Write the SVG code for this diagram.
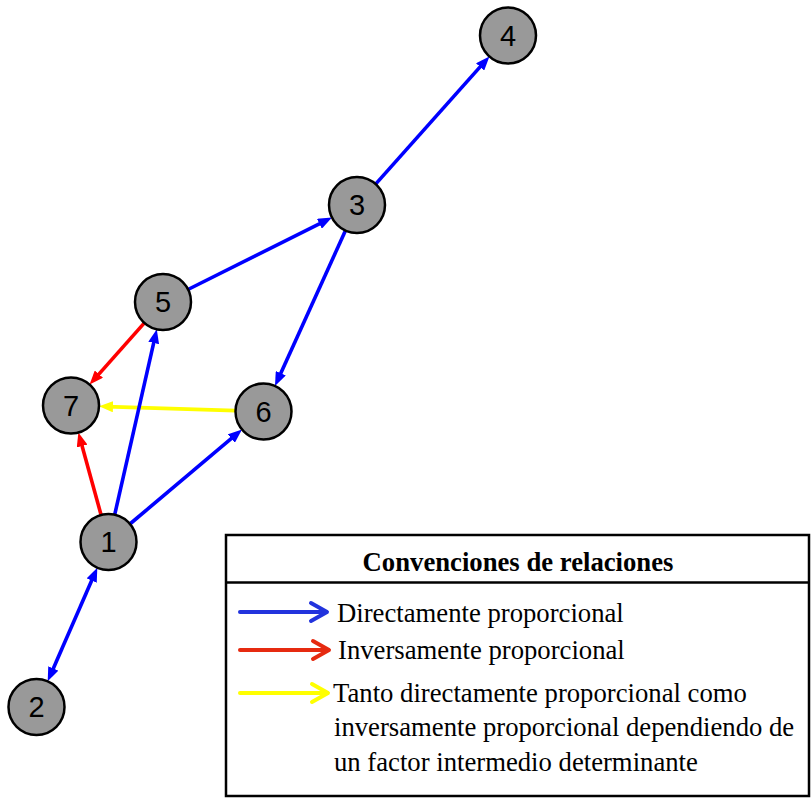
<svg xmlns="http://www.w3.org/2000/svg" width="812" height="798" viewBox="0 0 812 798">
<style>
.node circle{fill:#999999;stroke:#000;stroke-width:2.5}
.node text{font-family:"Liberation Sans",Arial,sans-serif;font-size:29px;fill:#000;text-anchor:middle;dominant-baseline:central}
.edge{fill:none;stroke-width:3.6}
.blue{stroke:#0000ff}
.red{stroke:#ff0000}
.yellow{stroke:#ffff00}
.lg{font-family:"Liberation Serif","Times New Roman",serif;font-size:26.7px;fill:#000}
.lgh{font-family:"Liberation Serif","Times New Roman",serif;font-size:26.7px;font-weight:bold;fill:#000;text-anchor:middle}
.la{fill:none;stroke-width:4;stroke-linecap:round;stroke-linejoin:round}
</style>
<defs>
<marker id="ab" markerUnits="userSpaceOnUse" viewBox="0 0 14 11" refX="6" refY="5.5" markerWidth="14" markerHeight="11" orient="auto-start-reverse"><path d="M0,0 L14,5.5 L0,11 z" fill="#0000ff"/></marker>
<marker id="ar" markerUnits="userSpaceOnUse" viewBox="0 0 14 11" refX="6" refY="5.5" markerWidth="14" markerHeight="11" orient="auto"><path d="M0,0 L14,5.5 L0,11 z" fill="#ff0000"/></marker>
<marker id="ay" markerUnits="userSpaceOnUse" viewBox="0 0 14 11" refX="6" refY="5.5" markerWidth="14" markerHeight="11" orient="auto"><path d="M0,0 L14,5.5 L0,11 z" fill="#ffff00"/></marker>
</defs>
<rect width="812" height="798" fill="#fff"/>
<g id="connectors">
<line class="edge blue" x1="375.6" y1="184.1" x2="484.1" y2="62.4" marker-end="url(#ab)"/>
<line class="edge blue" x1="188" y1="289.5" x2="324.8" y2="221.1" marker-end="url(#ab)"/>
<line class="edge blue" x1="345.5" y1="230.5" x2="278.3" y2="378.7" marker-end="url(#ab)"/>
<line class="edge red" x1="144.4" y1="322.9" x2="94.9" y2="378.6" marker-end="url(#ar)"/>
<line class="edge yellow" x1="235.5" y1="410.6" x2="107" y2="406.6" marker-end="url(#ay)"/>
<line class="edge red" x1="101.1" y1="515" x2="80.5" y2="440.2" marker-end="url(#ar)"/>
<line class="edge blue" x1="114.7" y1="514.7" x2="155" y2="337.1" marker-end="url(#ab)"/>
<line class="edge blue" x1="129.9" y1="524" x2="235.9" y2="434.7" marker-end="url(#ab)"/>
<line class="edge blue" x1="94.1" y1="575" x2="50.9" y2="674" marker-start="url(#ab)" marker-end="url(#ab)"/>
</g>
<g id="n1" class="node"><circle cx="108.5" cy="542" r="28"/><text x="108.5" y="542">1</text></g>
<g id="n2" class="node"><circle cx="36.5" cy="707" r="28"/><text x="36.5" y="707">2</text></g>
<g id="n3" class="node"><circle cx="357" cy="205" r="28"/><text x="357" y="205">3</text></g>
<g id="n4" class="node"><circle cx="508" cy="35.5" r="28"/><text x="508" y="35.5">4</text></g>
<g id="n5" class="node"><circle cx="163" cy="302" r="28"/><text x="163" y="302">5</text></g>
<g id="n6" class="node"><circle cx="263.5" cy="411.5" r="28"/><text x="263.5" y="411.5">6</text></g>
<g id="n7" class="node"><circle cx="71" cy="405.5" r="28"/><text x="71" y="405.5">7</text></g>
<g id="legend">
<rect x="226" y="535" width="583" height="261" fill="#fff" stroke="#000" stroke-width="2.5"/>
<line x1="226" y1="582.5" x2="809" y2="582.5" stroke="#000" stroke-width="2.5"/>
<text class="lgh" x="518" y="571">Convenciones de relaciones</text>
<line class="la" x1="240" y1="612" x2="326" y2="612" stroke="#2233dd"/>
<polyline class="la" points="311,603 327,612 311,621" stroke="#2233dd"/>
<text class="lg" x="337" y="622">Directamente proporcional</text>
<line class="la" x1="240" y1="650" x2="328" y2="650" stroke="#e62a10"/>
<polyline class="la" points="313,641 329,650 313,659" stroke="#e62a10"/>
<text class="lg" x="338" y="659">Inversamente proporcional</text>
<line class="la" x1="240" y1="693" x2="327" y2="693" stroke="#ffff00"/>
<polyline class="la" points="312,684 328,693 312,702" stroke="#ffff00"/>
<text class="lg" x="333" y="702">Tanto directamente proporcional como</text>
<text class="lg" x="334" y="736">inversamente proporcional dependiendo de</text>
<text class="lg" x="334" y="771">un factor intermedio determinante</text>
</g>
</svg>
